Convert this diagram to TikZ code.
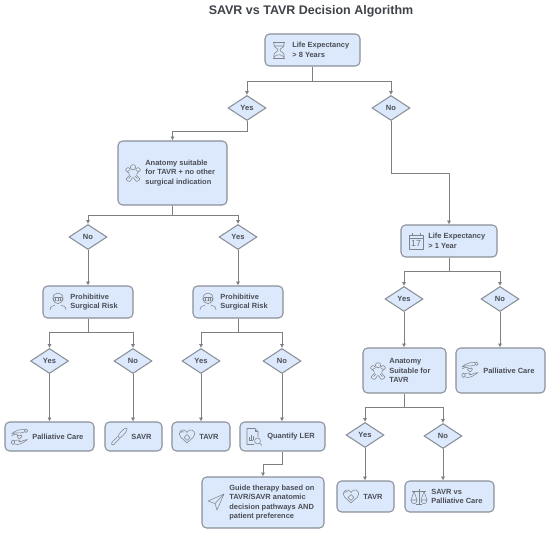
\documentclass[tikz,border=0pt]{standalone}
\usepackage{fontspec}
\setmainfont{Liberation Sans}
\usepackage{xcolor}
\usetikzlibrary{shapes.geometric,arrows.meta}
\definecolor{boxblue}{RGB}{220, 232, 251}
\definecolor{edgegray}{RGB}{138, 143, 152}
\definecolor{linegray}{RGB}{125, 127, 133}
\definecolor{textgray}{RGB}{74, 78, 86}
\definecolor{titlegray}{RGB}{62, 66, 72}
\newcommand{\px}{0.02cm}
\tikzset{
	boxnode/.style 2 args={draw=edgegray, fill=boxblue, line width=0.6pt, rounded corners=2.6pt, inner sep=0pt, minimum width=#1*\px, minimum height=#2*\px},
	choice/.style={draw=edgegray, fill=boxblue, line width=0.6pt, shape=diamond, aspect=1.52, inner sep=0pt, minimum width=38*\px, minimum height=25*\px, text=textgray, font=\fontsize{4.3}{5.4}\selectfont\bfseries},
	boxtext/.style={anchor=west, inner sep=0pt, align=left, text=textgray, font=\fontsize{4.25}{5.4}\selectfont\bfseries},
	flow/.style={draw=linegray, line width=0.55pt, -{Latex[length=2.2pt,width=2.4pt]}},
	icon/.style={draw=textgray!70, line width=0.3pt, line join=round, fill=none},
	pics/hourglass/.style={code={
		\draw[icon] (-6,-8) -- (6,-8) (-6,8) -- (6,8);
		\draw[icon] (-5,-8) -- (-5,-5) .. controls (-5,-2) and (-1,-2) .. (-1,0) .. controls (-1,2) and (-5,2) .. (-5,5) -- (-5,8);
		\draw[icon] (5,-8) -- (5,-5) .. controls (5,-2) and (1,-2) .. (1,0) .. controls (1,2) and (5,2) .. (5,5) -- (5,8);
		\draw[icon] (-5,-4) -- (5,-4) (-5,7) .. controls (-2,4) and (2,4) .. (5,7);
	}},
	pics/anatomy/.style={code={
		\draw[icon] (0,-5.8) circle[radius=2.6];
		\draw[icon] plot[smooth, tension=0.5] coordinates {(-2.4,-3.6) (-5,-5.5) (-7.5,-3) (-4.2,0) (-3.6,2.5) (-7,6) (-3.5,8.5) (0,4.5) (3.5,8.5) (7,6) (3.6,2.5) (4.2,0) (7.5,-3) (5,-5.5) (2.4,-3.6)};
		\draw[icon] (-6,-1) -- (-3,-3) (6,-1) -- (3,-3) (-4.5,5.5) -- (-2,3) (4.5,5.5) -- (2,3);
	}},
	pics/surgeon/.style={code={
		\draw[icon] (-5,-4) .. controls (-5,-10.5) and (5,-10.5) .. (5,-4);
		\draw[icon] (-5,-4) .. controls (-5,3.5) and (5,3.5) .. (5,-4);
		\draw[icon, rounded corners=0.8pt] (-5,-4.5) rectangle (5,-1.2);
		\draw[icon] (-2.5,-4.5) -- (-2.5,-1.2) (0,-4.5) -- (0,-1.2) (2.5,-4.5) -- (2.5,-1.2);
		\draw[icon] (-8,8) .. controls (-8,4.5) and (-5,3.5) .. (-3,3.2) (8,8) .. controls (8,4.5) and (5,3.5) .. (3,3.2);
	}},
	pics/hands/.style={code={
		\draw[icon, rounded corners=0.8pt] (5,-8) rectangle (8,-4.5);
		\draw[icon] (5,-7.5) .. controls (0,-8) and (-5,-6) .. (-8,-3) .. controls (-5,-4.5) and (-2,-4.5) .. (1,-4) -- (5,-5);
		\draw[icon] (-8,-1) .. controls (-5,-3) and (-3,-3) .. (-2,-2.5);
		\draw[icon, rounded corners=0.8pt] (-8,3) rectangle (-5,7.5);
		\draw[icon] (-5,3.5) -- (-1,3) .. controls (1,3) and (1,5) .. (-1,5) (-5,7) .. controls (-1,8.5) and (3,6.5) .. (8,2.5) .. controls (5,2.5) and (3,4) .. (0.5,5);
		\draw[icon] (0,2) -- (-2.5,-0.5) .. controls (-3.2,-2.5) and (-0.5,-2.5) .. (0,-1) .. controls (0.5,-2.5) and (3.2,-2.5) .. (2.5,-0.5) -- cycle;
	}},
	pics/scalpel/.style={code={
		\draw[icon, rounded corners=0.6pt] (-8,6.5) -- (-1,-1) -- (1,1) -- (-6,8.5) -- cycle;
		\draw[icon] (-1,-1) .. controls (2,-6) and (5,-9) .. (8,-9) .. controls (8.5,-6) and (5,-2) .. (1,1);
	}},
	pics/heartshield/.style={code={
		\draw[icon] (0,7) -- (-6.5,1) .. controls (-9.5,-3) and (-6,-7) .. (-3,-6) .. controls (-1.5,-5.5) and (-0.5,-4.5) .. (0,-3.5) .. controls (0.5,-4.5) and (1.5,-5.5) .. (3,-6) .. controls (6,-7) and (9.5,-3) .. (6.5,1) -- cycle;
		\draw[icon] (0,-1.5) -- (3,1.5) -- (0,4.5) -- (-3,1.5) -- cycle;
		\draw[icon] (-6.5,-3) .. controls (-6,-4.5) and (-4,-5) .. (-3,-4);
	}},
	pics/report/.style={code={
		\draw[icon] (4,0.5) -- (4,-5) -- (1,-8) -- (-7,-8) -- (-7,8) -- (0,8);
		\draw[icon] (1,-8) -- (1,-5) -- (4,-5);
		\draw[icon] (-5,4) -- (-1,4) (-4.5,3) -- (-4.5,0.5) (-2.8,3) -- (-2.8,-2) (-1.2,3) -- (-1.2,-0.5);
		\draw[icon] (3.5,4.5) circle[radius=3];
		\draw[icon] (5.7,6.7) -- (8,9);
	}},
	pics/sendarrow/.style={code={
		\draw[icon] (8,-8) -- (-8,-1) -- (-1,1.5) -- (1,8) -- cycle;
		\draw[icon] (8,-8) -- (-1,1.5);
	}},
	pics/calendar/.style={code={
		\draw[icon] (-7,-6) rectangle (7,8);
		\draw[icon] (-7,-3) -- (7,-3);
		\draw[icon] (-4,-8) -- (-4,-4.5) (4,-8) -- (4,-4.5);
		\node[text=textgray!80, inner sep=0pt, font=\fontsize{5}{5}\selectfont] (caldate) at (0,2.5) {17};
	}},
	pics/balance/.style={code={
		\draw[icon] (0,-8) -- (0,7) (-3,7) -- (3,7) (-7,-5.5) -- (7,-5.5);
		\draw[icon] (-5,-5.5) -- (-8,3) (-5,-5.5) -- (-2,3) (5,-5.5) -- (2,3) (5,-5.5) -- (8,3);
		\draw[icon] (-8,3) .. controls (-8,8) and (-2,8) .. (-2,3) -- cycle;
		\draw[icon] (2,3) .. controls (2,8) and (8,8) .. (8,3) -- cycle;
	}},
}
\begin{document}
\begin{tikzpicture}[x=\px, y=-\px]
	\useasboundingbox (0,0) rectangle (550,533);
	\pgfmathsetmacro{\ytop}{14.7}
	\pgfmathsetmacro{\ylevel}{14}
	\node[text=titlegray, inner sep=0pt, font=\fontsize{7.1}{8}\selectfont\bfseries] (title) at (311,11) {SAVR vs TAVR Decision Algorithm};

	\node[boxnode={95}{32}] (le8) at (312.5,50) {};
	\node[choice] (yes1) at (247,108) {Yes};
	\node[choice] (no1) at (391,108) {No};
	\node[boxnode={109}{64}] (anat1) at (172.5,173) {};
	\node[choice] (no2) at (88,237) {No};
	\node[choice] (yes2) at (238,237) {Yes};
	\node[boxnode={90}{32}] (risk1) at (88,302) {};
	\node[boxnode={90}{32}] (risk2) at (238,302) {};
	\node[choice] (yes3) at (49.5,361) {Yes};
	\node[choice] (no3) at (133,361) {No};
	\node[choice] (yes4) at (201,361) {Yes};
	\node[choice] (no4) at (282,361) {No};
	\node[boxnode={89}{29}] (pall1) at (49.5,436.5) {};
	\node[boxnode={57}{29}] (savr1) at (133.5,436.5) {};
	\node[boxnode={58}{29}] (tavr1) at (201,436.5) {};
	\node[boxnode={85}{29}] (ler) at (282.5,436.5) {};
	\node[boxnode={122}{51}] (guide) at (263,502.5) {};
	\node[boxnode={96}{32}] (le1) at (449,241) {};
	\node[choice] (yes5) at (404,299) {Yes};
	\node[choice] (no5) at (500,299) {No};
	\node[boxnode={83}{45}] (anat2) at (404.5,370.5) {};
	\node[boxnode={89}{45}] (pall2) at (500.5,370.5) {};
	\node[choice] (yes6) at (365,435) {Yes};
	\node[choice] (no6) at (443,436) {No};
	\node[boxnode={57}{31}] (tavr2) at (365.5,496.5) {};
	\node[boxnode={89}{31}] (savr2) at (449.5,496.5) {};

	\node[boxtext] (le8text) at (292,50) {Life Expectancy\\> 8 Years};
	\node[boxtext] (anat1text) at (145,173) {Anatomy suitable\\for TAVR + no other\\surgical indication};
	\node[boxtext] (risk1text) at (70,302) {Prohibitive\\Surgical Risk};
	\node[boxtext] (risk2text) at (220,302) {Prohibitive\\Surgical Risk};
	\node[boxtext] (pall1text) at (32,436.5) {Palliative Care};
	\node[boxtext] (savr1text) at (131,436.5) {SAVR};
	\node[boxtext] (tavr1text) at (199,436.5) {TAVR};
	\node[boxtext] (lertext) at (267,436.5) {Quantify LER};
	\node[boxtext] (guidetext) at (229,502.5) {Guide therapy based on\\TAVR/SAVR anatomic\\decision pathways AND\\patient preference};
	\node[boxtext] (le1text) at (428,241) {Life Expectancy\\> 1 Year};
	\node[boxtext] (anat2text) at (389,370.5) {Anatomy\\Suitable for\\TAVR};
	\node[boxtext] (pall2text) at (483,370.5) {Palliative Care};
	\node[boxtext] (tavr2text) at (363,496.5) {TAVR};
	\node[boxtext] (savr2text) at (431,496.5) {SAVR vs\\Palliative Care};

	\pic at (279,50) {hourglass};
	\pic at (133,173) {anatomy};
	\pic at (58,302) {surgeon};
	\pic at (208,302) {surgeon};
	\pic at (19.5,437) {hands};
	\pic at (119,437) {scalpel};
	\pic at (187,436) {heartshield};
	\pic at (254,436.5) {report};
	\pic at (216,502) {sendarrow};
	\pic at (416,241) {calendar};
	\pic at (378,371) {anatomy};
	\pic at (470,370) {hands};
	\pic at (351,496) {heartshield};
	\pic at (419,497) {balance};

	\draw[flow] (le8.south) -- ++(0,\ytop) -| (yes1.north);
	\draw[flow] (le8.south) -- ++(0,\ytop) -| (no1.north);
	\draw[flow] (yes1.south) -- ++(0,10.5) -| (anat1.north);
	\draw[flow] (no1.south) -- ++(0,52.5) -| (le1.north);
	\draw[flow] (anat1.south) -- ++(0,10) -| (no2.north);
	\draw[flow] (anat1.south) -- ++(0,10) -| (yes2.north);
	\draw[flow] (no2.south) -- (risk1.north);
	\draw[flow] (yes2.south) -- (risk2.north);
	\draw[flow] (risk1.south) -- ++(0,\ylevel) -| (yes3.north);
	\draw[flow] (risk1.south) -- ++(0,\ylevel) -| (no3.north);
	\draw[flow] (risk2.south) -- ++(0,\ylevel) -| (yes4.north);
	\draw[flow] (risk2.south) -- ++(0,\ylevel) -| (no4.north);
	\draw[flow] (yes3.south) -- (pall1.north -| yes3.south);
	\draw[flow] (no3.south) -- (savr1.north -| no3.south);
	\draw[flow] (yes4.south) -- (tavr1.north);
	\draw[flow] (no4.south) -- (ler.north -| no4.south);
	\draw[flow] (ler.south) -- ++(0,13) -| (guide.north);
	\draw[flow] (le1.south) -- ++(0,\ylevel) -| (yes5.north);
	\draw[flow] (le1.south) -- ++(0,\ylevel) -| (no5.north);
	\draw[flow] (yes5.south) -- (anat2.north -| yes5.south);
	\draw[flow] (no5.south) -- (pall2.north -| no5.south);
	\draw[flow] (anat2.south) -- ++(0,14) -| (yes6.north);
	\draw[flow] (anat2.south) -- ++(0,14) -| (no6.north);
	\draw[flow] (yes6.south) -- (tavr2.north -| yes6.south);
	\draw[flow] (no6.south) -- (savr2.north -| no6.south);
\end{tikzpicture}
\end{document}
